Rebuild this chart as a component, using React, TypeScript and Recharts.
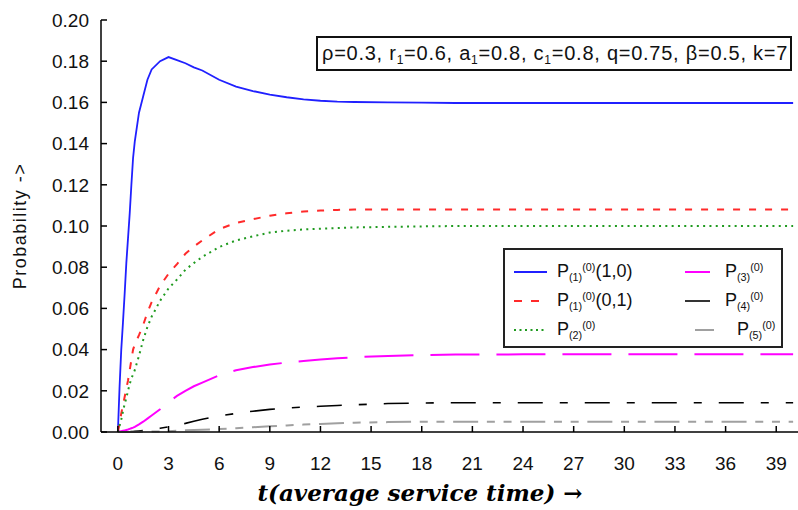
import React from 'react';
import { LineChart, Line, XAxis, YAxis, Legend } from 'recharts';

// sample times (average service time units)
const time = [0, 0.1, 0.2, 0.3, 0.4, 0.5, 0.6, 0.7, 0.8, 0.9, 1, 1.25, 1.5, 1.75, 2, 2.5, 3, 3.5, 4, 4.5, 5, 6, 7, 8, 9, 10, 11, 12, 13, 14, 16, 18, 20, 24, 28, 32, 36, 40];

const p1_10 = [0, 0.022, 0.04, 0.053, 0.067, 0.082, 0.094, 0.106, 0.12, 0.133, 0.141, 0.155, 0.163, 0.171, 0.176, 0.18, 0.182, 0.1805, 0.179, 0.177, 0.1755, 0.171, 0.1677, 0.1655, 0.1638, 0.1625, 0.1615, 0.1608, 0.1604, 0.1602, 0.16, 0.1599, 0.1597, 0.1597, 0.1597, 0.1597, 0.1597, 0.1597];
const p1_01 = [0, 0.004, 0.009, 0.013, 0.017, 0.021, 0.025, 0.03, 0.035, 0.04, 0.0425, 0.047, 0.052, 0.058, 0.063, 0.071, 0.0768, 0.0815, 0.0865, 0.09, 0.093, 0.0985, 0.1015, 0.1033, 0.105, 0.1062, 0.107, 0.1075, 0.1078, 0.108, 0.108, 0.108, 0.108, 0.108, 0.108, 0.108, 0.108, 0.108];
const p2 = [0, 0.003, 0.006, 0.01, 0.0135, 0.0165, 0.02, 0.0233, 0.026, 0.028, 0.03, 0.037, 0.0447, 0.051, 0.056, 0.0637, 0.0697, 0.074, 0.0788, 0.082, 0.085, 0.0898, 0.093, 0.095, 0.0968, 0.0977, 0.0983, 0.0987, 0.099, 0.0993, 0.0996, 0.0998, 0.1, 0.1, 0.1, 0.1, 0.1, 0.1];
const p3 = [0, 0.0002, 0.0004, 0.0006, 0.0008, 0.001, 0.0012, 0.0015, 0.0018, 0.0021, 0.0025, 0.0037, 0.005, 0.0065, 0.008, 0.011, 0.0145, 0.0175, 0.02, 0.0222, 0.024, 0.0275, 0.03, 0.0315, 0.0328, 0.0337, 0.0345, 0.0352, 0.0358, 0.0363, 0.0369, 0.0373, 0.0376, 0.0377, 0.0377, 0.0377, 0.0377, 0.0377];
const p4 = [0, 0, 0, 0, 0, 0, 0.0001, 0.0001, 0.0002, 0.0002, 0.0003, 0.0005, 0.0007, 0.0009, 0.0012, 0.0018, 0.0025, 0.0033, 0.0042, 0.0052, 0.0062, 0.0078, 0.009, 0.0101, 0.011, 0.0116, 0.0121, 0.0125, 0.0129, 0.0132, 0.0138, 0.0141, 0.0142, 0.0142, 0.0142, 0.0142, 0.0142, 0.0142];
const p5 = [0, 0, 0, 0, 0, 0, 0, 0, 0, 0, 0, 0, 0.0001, 0.0001, 0.0002, 0.0003, 0.0004, 0.0006, 0.0008, 0.001, 0.0011, 0.0014, 0.0018, 0.0023, 0.0028, 0.0032, 0.0036, 0.0039, 0.0042, 0.0045, 0.0048, 0.005, 0.005, 0.005, 0.005, 0.005, 0.005, 0.005];

const xTicks = [0, 3, 6, 9, 12, 15, 18, 21, 24, 27, 30, 33, 36, 39];
const yTicks = [0, 0.02, 0.04, 0.06, 0.08, 0.1, 0.12, 0.14, 0.16, 0.18, 0.2];

const data = time.map((t, i) => ({
  t,
  p1_10: p1_10[i],
  p1_01: p1_01[i],
  p2: p2[i],
  p3: p3[i],
  p4: p4[i],
  p5: p5[i],
}));

const series = [
  { key: 'p1_10', color: '#2020ff', dash: undefined, width: 1.8 },
  { key: 'p1_01', color: '#ff2a2a', dash: '7 9', width: 2 },
  { key: 'p2', color: '#1f9a1f', dash: '2 4.3', width: 2 },
  { key: 'p3', color: '#ff00ff', dash: '49 17', width: 2 },
  { key: 'p4', color: '#000000', dash: '25 17 8 17', width: 1.6 },
  { key: 'p5', color: '#a0a0a0', dash: '25 8.7 8 8.7 8 8.7', width: 2 },
];

const font = '"Liberation Sans", Arial, sans-serif';

const Sub = ({ children }: { children: React.ReactNode }) => (
  <span style={{ fontSize: '0.6em', position: 'relative', top: '0.35em' }}>{children}</span>
);
const Sup = ({ children }: { children: React.ReactNode }) => (
  <span style={{ fontSize: '0.6em', position: 'relative', top: '-0.55em' }}>{children}</span>
);

const legendItems = [
  { i: 0, lx: 9, lw: 33, tx: 52, y: 22, label: <>P<Sub>(1)</Sub><Sup>(0)</Sup>(1,0)</> },
  { i: 1, lx: 9, lw: 33, tx: 52, y: 51, label: <>P<Sub>(1)</Sub><Sup>(0)</Sup>(0,1)</> },
  { i: 2, lx: 9, lw: 33, tx: 52, y: 80, label: <>P<Sub>(2)</Sub><Sup>(0)</Sup></> },
  { i: 3, lx: 180, lw: 25, tx: 220, y: 22, label: <>P<Sub>(3)</Sub><Sup>(0)</Sup></> },
  { i: 4, lx: 180, lw: 25, tx: 220, y: 51, label: <>P<Sub>(4)</Sub><Sup>(0)</Sup></> },
  { i: 5, lx: 190, lw: 19, tx: 232, y: 80, label: <>P<Sub>(5)</Sub><Sup>(0)</Sup></> },
];

const renderLegend = () => (
  <div
    style={{
      position: 'relative',
      width: 276,
      height: 96,
      border: '2px solid #222',
      background: '#fff',
      fontFamily: font,
      fontSize: 18,
      color: '#111',
    }}
  >
    {legendItems.map((it) => {
      const s = series[it.i];
      return (
        <React.Fragment key={s.key}>
          <svg style={{ position: 'absolute', left: it.lx, top: it.y - 5 }} width={it.lw} height={10}>
            <line x1={0} y1={5} x2={it.lw} y2={5} stroke={s.color} strokeWidth={s.width} strokeDasharray={s.key === 'p2' ? '2 3.5' : s.key === 'p1_01' ? '8 9' : undefined} />
          </svg>
          <div style={{ position: 'absolute', left: it.tx, top: it.y - 12, whiteSpace: 'nowrap', lineHeight: '22px' }}>{it.label}</div>
        </React.Fragment>
      );
    })}
  </div>
);

export default function App() {
  return (
    <div style={{ position: 'absolute', left: 0, top: 0, width: 798, height: 510, overflow: 'hidden', background: '#fff' }}>
      <LineChart width={830} height={510} data={data} margin={{ top: 20, right: 20, bottom: 0, left: 0 }}>
        <XAxis
          xAxisId="top"
          orientation="top"
          dataKey="t"
          type="number"
          domain={[-1, 41]}
          ticks={xTicks}
          height={0}
          tickSize={-6}
          tickFormatter={() => ''}
          stroke="#000"
          strokeWidth={1.5}
          allowDataOverflow
        />
        <XAxis
          dataKey="t"
          type="number"
          domain={[-1, 41]}
          ticks={xTicks}
          height={78}
          tickSize={-6}
          tickMargin={31}
          stroke="#000"
          strokeWidth={1.5}
          tick={{ fill: '#111', fontSize: 19, fontFamily: font }}
          allowDataOverflow
          label={{
            content: () => (
              <text x={420} y={501} textAnchor="middle" fontFamily='"DejaVu Serif", "Liberation Serif", serif' fontStyle="italic" fontWeight="bold" fontSize={23} fill="#000">
                t(average service time) →
              </text>
            ),
          }}
        />
        <YAxis
          type="number"
          domain={[0, 0.2]}
          ticks={yTicks}
          width={101}
          tickSize={-6}
          tickMargin={18}
          tickFormatter={(v: number) => v.toFixed(2)}
          stroke="#000"
          strokeWidth={1.5}
          tick={{ fill: '#111', fontSize: 19, fontFamily: font }}
          label={{
            content: () => (
              <text x={26} y={226} transform="rotate(-90 26 226)" textAnchor="middle" fontFamily={font} fontSize={18} letterSpacing={1.5} fill="#111">
                Probability -&gt;
              </text>
            ),
          }}
        />
        <YAxis yAxisId="right" orientation="right" domain={[0, 0.2]} width={0} tick={false} stroke="#000" strokeWidth={1.5} />
        {series.map((s) => (
          <Line
            key={s.key}
            type="linear"
            dataKey={s.key}
            stroke={s.color}
            strokeWidth={s.width}
            strokeDasharray={s.dash}
            dot={false}
            activeDot={false}
            isAnimationActive={false}
          />
        ))}
        <Legend
          layout="horizontal"
          verticalAlign="middle"
          align="center"
          content={renderLegend}
          wrapperStyle={{ left: 503, top: 248, width: 280, height: 100 }}
        />
      </LineChart>
      <div
        style={{
          position: 'absolute',
          left: 316,
          top: 36,
          width: 468,
          height: 31,
          border: '2px solid #111',
          fontFamily: font,
          fontSize: 20,
          letterSpacing: 0.75,
          lineHeight: '31px',
          paddingLeft: 4,
          boxSizing: 'content-box',
          whiteSpace: 'nowrap',
          color: '#111',
          background: '#fff',
        }}
      >
        ρ=0.3, r<Sub>1</Sub>=0.6, a<Sub>1</Sub>=0.8, c<Sub>1</Sub>=0.8, q=0.75, β=0.5, k=7
      </div>
    </div>
  );
}
